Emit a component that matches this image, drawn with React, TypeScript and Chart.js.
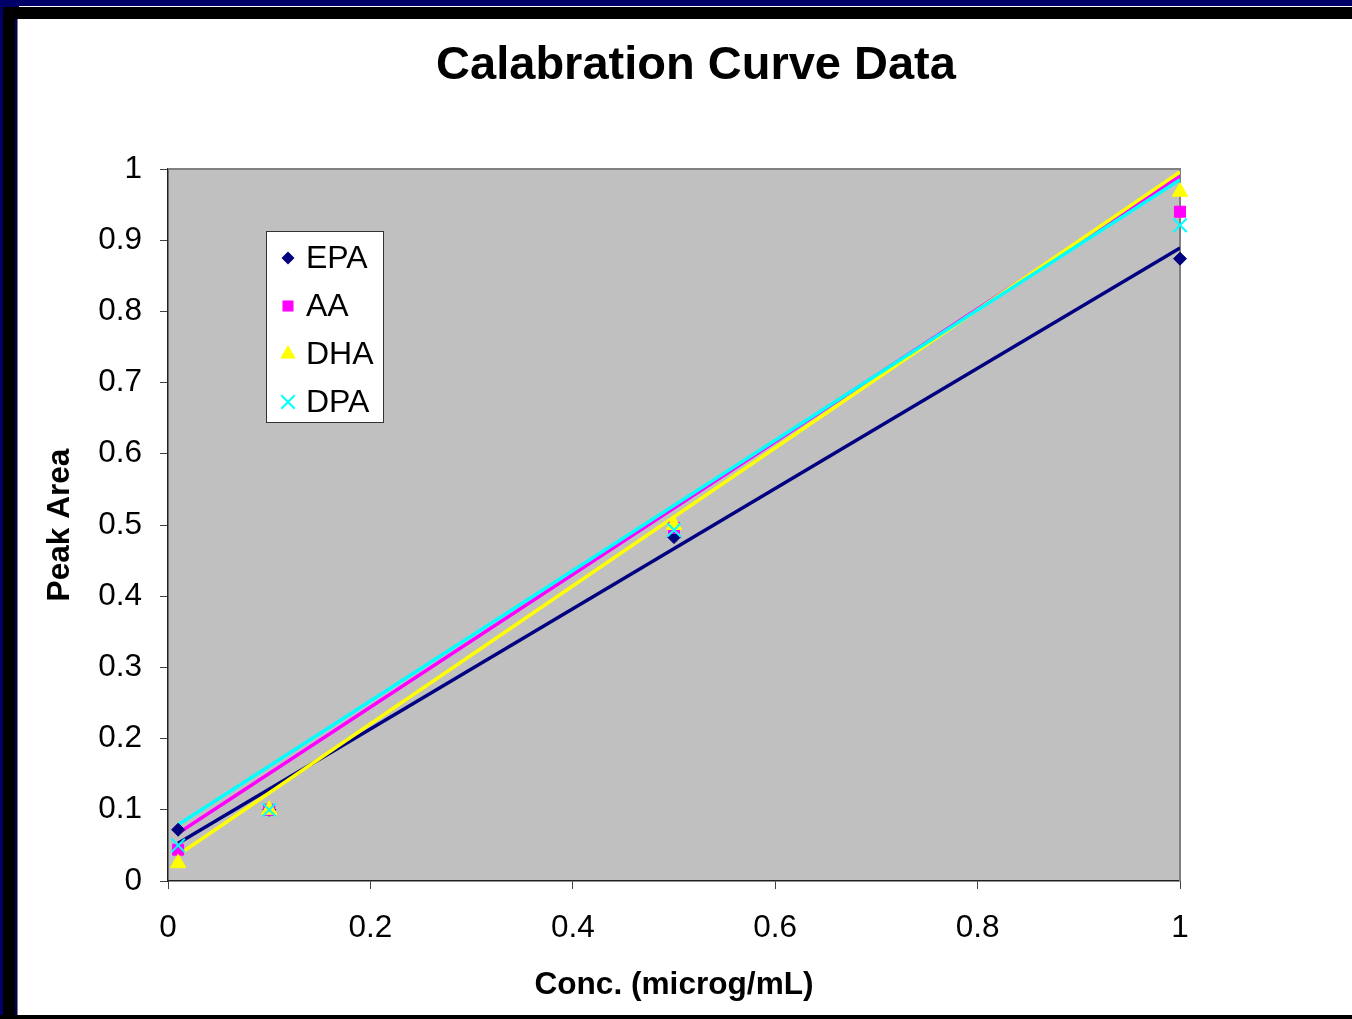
import { useEffect, useRef } from "react";
import { Chart, registerables } from "chart.js";

Chart.register(...registerables);

const chartTitle = "Calabration Curve Data";
const xAxisTitle = "Conc. (microg/mL)";
const yAxisTitle = "Peak Area";
const seriesNames = ["EPA", "AA", "DHA", "DPA"];
const concentrations = [0.01, 0.1, 0.5, 1];
const epaValues = [0.072, 0.1, 0.483, 0.874];
const aaValues = [0.044, 0.1, 0.496, 0.94];
const dhaValues = [0.025, 0.1, 0.5, 0.968];
const dpaValues = [0.05, 0.1, 0.493, 0.921];
const trendRange = [0.01, 1];
const epaTrend = [0.053, 0.889];
const aaTrend = [0.067, 0.99];
const dhaTrend = [0.0365, 0.996];
const dpaTrend = [0.079, 0.985];
const xTickValues = [0, 0.2, 0.4, 0.6, 0.8, 1];
const yTickValues = [0, 0.1, 0.2, 0.3, 0.4, 0.5, 0.6, 0.7, 0.8, 0.9, 1];

const FONT = "'Liberation Sans', Arial, sans-serif";
const colors = ["#000080", "#FF00FF", "#FFFF00", "#00FFFF"];
const pointStyles = ["rectRot", "rect", "triangle", "crossRot"];
const pointRadii = [6.5, 7.8, 9, 9.5];
const valueSets = [epaValues, aaValues, dhaValues, dpaValues];
const trendSets = [epaTrend, aaTrend, dhaTrend, dpaTrend];

function drawMarker(ctx: CanvasRenderingContext2D, style: string, r: number, color: string, x: number, y: number) {
  ctx.save();
  ctx.fillStyle = color;
  ctx.strokeStyle = color;
  ctx.beginPath();
  if (style === "rectRot") {
    ctx.moveTo(x, y - r);
    ctx.lineTo(x + r, y);
    ctx.lineTo(x, y + r);
    ctx.lineTo(x - r, y);
    ctx.closePath();
    ctx.fill();
  } else if (style === "rect") {
    const h = r * Math.SQRT1_2;
    ctx.rect(x - h, y - h, 2 * h, 2 * h);
    ctx.fill();
  } else if (style === "triangle") {
    ctx.moveTo(x, y - r);
    ctx.lineTo(x + r * Math.sin((2 * Math.PI) / 3), y + r / 2);
    ctx.lineTo(x - r * Math.sin((2 * Math.PI) / 3), y + r / 2);
    ctx.closePath();
    ctx.fill();
  } else {
    const o = r * Math.SQRT1_2;
    ctx.lineWidth = 2;
    ctx.moveTo(x - o, y - o);
    ctx.lineTo(x + o, y + o);
    ctx.moveTo(x - o, y + o);
    ctx.lineTo(x + o, y - o);
    ctx.stroke();
  }
  ctx.restore();
}

const plotFramePlugin = {
  id: "plotFrame",
  beforeDraw(chart: any) {
    const { ctx, chartArea } = chart;
    const { left, top, right, bottom } = chartArea;
    ctx.save();
    ctx.fillStyle = "#C0C0C0";
    ctx.fillRect(left, top, right - left, bottom - top);
    ctx.restore();
  },
  beforeDatasetsDraw(chart: any) {
    const { ctx, chartArea } = chart;
    const { left, top, right, bottom } = chartArea;
    ctx.save();
    ctx.strokeStyle = "#808080";
    ctx.lineWidth = 2;
    ctx.beginPath();
    ctx.moveTo(left, top);
    ctx.lineTo(right, top);
    ctx.lineTo(right, bottom);
    ctx.stroke();
    ctx.restore();
  },
};

const titlePlugin = {
  id: "pageTitle",
  afterDraw(chart: any) {
    const { ctx } = chart;
    ctx.save();
    ctx.font = `bold 47px ${FONT}`;
    ctx.fillStyle = "#000000";
    ctx.textAlign = "center";
    ctx.textBaseline = "alphabetic";
    ctx.fillText(chartTitle, 696, 79);
    ctx.restore();
  },
};

const legendPlugin = {
  id: "boxLegend",
  afterDraw(chart: any) {
    const { ctx } = chart;
    const boxX = 266;
    const boxY = 231;
    const boxW = 118;
    const boxH = 192;
    ctx.save();
    ctx.fillStyle = "#FFFFFF";
    ctx.fillRect(boxX, boxY, boxW, boxH);
    ctx.strokeStyle = "#333333";
    ctx.lineWidth = 1;
    ctx.strokeRect(boxX + 0.5, boxY + 0.5, boxW - 1, boxH - 1);
    ctx.font = `32px ${FONT}`;
    ctx.textBaseline = "middle";
    ctx.textAlign = "left";
    seriesNames.forEach((name, i) => {
      const cy = boxY + 27 + i * 48;
      const cx = boxX + 22;
      drawMarker(ctx, pointStyles[i], pointRadii[i], colors[i], cx, cy);
      ctx.fillStyle = "#000000";
      ctx.fillText(name, boxX + 40, cy + 1);
    });
    ctx.restore();
  },
};

export default function App() {
  const canvasRef = useRef<HTMLCanvasElement | null>(null);

  useEffect(() => {
    const canvas = canvasRef.current;
    if (!canvas) return;

    const scatterSets = seriesNames.map((name, i) => ({
      type: "scatter" as const,
      label: name,
      data: concentrations.map((x, j) => ({ x, y: valueSets[i][j] })),
      pointStyle: pointStyles[i],
      pointRadius: pointRadii[i],
      pointBackgroundColor: colors[i],
      pointBorderColor: colors[i],
      pointBorderWidth: pointStyles[i] === "crossRot" ? 2 : 1,
      showLine: false,
      clip: false as any,
      order: 3 - i,
    }));

    const trendLines = seriesNames.map((name, i) => ({
      type: "line" as const,
      label: name + " trend",
      data: trendRange.map((x, j) => ({ x, y: trendSets[i][j] })),
      borderColor: colors[i],
      borderWidth: 3.4,
      pointRadius: 0,
      fill: false,
      tension: 0,
      order: 7 - i,
    }));

    const chart = new Chart(canvas, {
      type: "scatter",
      data: { datasets: [...scatterSets, ...trendLines] as any },
      plugins: [plotFramePlugin, legendPlugin, titlePlugin],
      options: {
        animation: false,
        responsive: false,
        events: [],
        layout: { padding: { left: 0, right: 172, top: 169, bottom: 0 } },
        plugins: {
          legend: { display: false },
          tooltip: { enabled: false },
          title: { display: false },
        },
        scales: {
          x: {
            type: "linear",
            position: "bottom",
            min: 0,
            max: 1,
            afterBuildTicks: (scale: any) => {
              scale.ticks = xTickValues.map((v) => ({ value: v }));
            },
            afterFit: (scale: any) => {
              scale.height = 138;
            },
            ticks: {
              color: "#000000",
              font: { family: FONT, size: 31.5 },
              padding: 20,
              maxRotation: 0,
              autoSkip: false,
              callback: (v: any) => String(v),
            },
            grid: {
              display: true,
              drawOnChartArea: false,
              drawTicks: true,
              tickLength: 8,
              color: "#404040",
            },
            border: { display: true, color: "#202020", width: 1.5 },
            title: {
              display: true,
              text: xAxisTitle,
              color: "#000000",
              font: { family: FONT, size: 31.6, weight: "bold" },
              padding: { top: 0, bottom: 15 },
            },
          },
          y: {
            type: "linear",
            min: 0,
            max: 1,
            afterBuildTicks: (scale: any) => {
              scale.ticks = yTickValues.map((v) => ({ value: v }));
            },
            afterFit: (scale: any) => {
              scale.width = 168;
            },
            ticks: {
              color: "#000000",
              font: { family: FONT, size: 31.5 },
              padding: 18,
              autoSkip: false,
              callback: (v: any) => String(v),
            },
            grid: {
              display: true,
              drawOnChartArea: false,
              drawTicks: true,
              tickLength: 8,
              color: "#404040",
            },
            border: { display: true, color: "#202020", width: 1.5 },
            title: {
              display: true,
              text: yAxisTitle,
              color: "#000000",
              font: { family: FONT, size: 31.6, weight: "bold" },
              padding: { top: 41, bottom: 0 },
            },
          },
        },
      } as any,
    });

    return () => {
      chart.destroy();
    };
  }, []);

  return (
    <div style={{ position: "fixed", left: 0, top: 0, width: 1352, height: 1019, background: "#FFFFFF", overflow: "hidden" }}>
      <div style={{ position: "absolute", left: 0, top: 0, width: 1352, height: 7, background: "#000066" }} />
      <div style={{ position: "absolute", left: 0, top: 0, width: 3, height: 1019, background: "#000066" }} />
      <div style={{ position: "absolute", left: 3, top: 7, width: 1349, height: 12, background: "#000000" }} />
      <div style={{ position: "absolute", left: 19, top: 6, width: 1333, height: 1, background: "#FFFFFF" }} />
      <div style={{ position: "absolute", left: 3, top: 7, width: 12, height: 1012, background: "#000000" }} />
      <div style={{ position: "absolute", left: 15, top: 19, width: 2, height: 996, background: "#000066" }} />
      <div style={{ position: "absolute", left: 17, top: 19, width: 1, height: 996, background: "#808080" }} />
      <div style={{ position: "absolute", left: 0, top: 1015, width: 1352, height: 4, background: "#000000" }} />
      <canvas ref={canvasRef} width={1352} height={1019} style={{ position: "absolute", left: 0, top: 0, display: "block" }} />
    </div>
  );
}
